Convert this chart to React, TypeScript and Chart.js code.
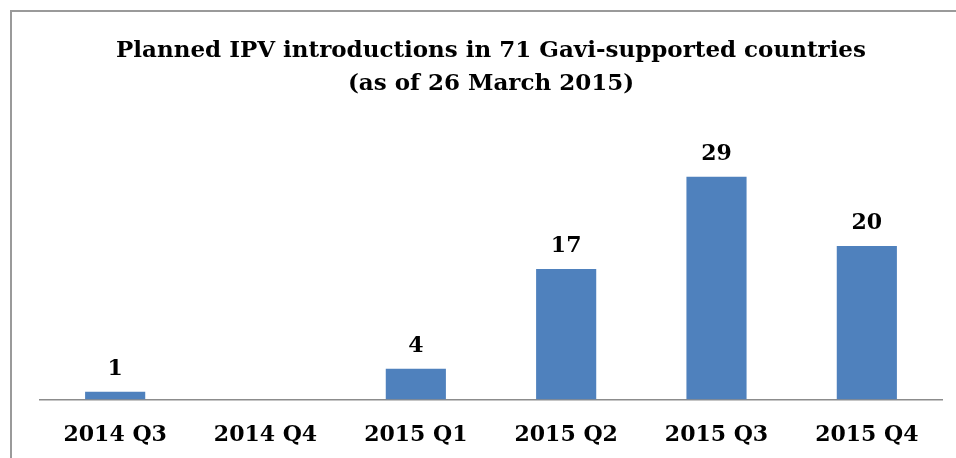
import React, { useEffect, useRef } from "react";
import { Chart, registerables } from "chart.js";

Chart.register(...registerables);

const titleLines = [
  "Planned IPV introductions in 71 Gavi-supported countries",
  "(as of 26 March 2015)",
];
const categories = ["2014 Q3", "2014 Q4", "2015 Q1", "2015 Q2", "2015 Q3", "2015 Q4"];
const introductions = [1, 0, 4, 17, 29, 20];

const FONT = "'DejaVu Serif', serif";

const valueLabels = {
  id: "valueLabels",
  afterDatasetsDraw(chart: any) {
    const ctx = chart.ctx;
    const meta = chart.getDatasetMeta(0);
    const data = chart.data.datasets[0].data as number[];
    ctx.save();
    ctx.font = `bold 22px ${FONT}`;
    ctx.fillStyle = "#000";
    ctx.textAlign = "center";
    ctx.textBaseline = "alphabetic";
    meta.data.forEach((bar: any, i: number) => {
      const v = data[i];
      if (!v) return;
      ctx.fillText(String(v), bar.x, bar.y - 17);
    });
    ctx.restore();
  },
};

export default function App() {
  const ref = useRef<HTMLCanvasElement>(null);
  useEffect(() => {
    if (!ref.current) return;
    const chart = new Chart(ref.current, {
      type: "bar",
      data: {
        labels: categories,
        datasets: [
          {
            data: introductions,
            backgroundColor: "#4F81BD",
            borderWidth: 0,
            barPercentage: 0.4,
            categoryPercentage: 1,
          },
        ],
      },
      options: {
        responsive: false,
        animation: false,
        layout: { padding: { left: 40, right: 14, top: 34, bottom: 0 } },
        plugins: {
          legend: { display: false },
          tooltip: { enabled: false },
          title: {
            display: true,
            text: titleLines,
            color: "#000",
            font: { family: FONT, size: 23, weight: "bold", lineHeight: 1.45 },
            padding: { top: 0, bottom: 30 },
          },
        },
        scales: {
          x: {
            grid: { display: false },
            border: { display: true, color: "#8c8c8c", width: 1.5 },
            ticks: {
              color: "#000",
              font: { family: FONT, size: 22, weight: "bold" },
              padding: 14.5,
              maxRotation: 0,
            },
            afterFit: (s: any) => {
              s.height = 58.5;
            },
          },
          y: {
            display: false,
            min: 0,
            max: 35,
          },
        },
      },
      plugins: [valueLabels],
    });
    return () => chart.destroy();
  }, []);
  return (
    <div style={{ position: "absolute", left: 0, top: 0, width: 956, height: 458, background: "#fff", overflow: "hidden" }}>
      <canvas ref={ref} width={956} height={458} style={{ display: "block", position: "absolute", left: 0, top: 0 }} />
      <div
        style={{
          position: "absolute",
          left: 10,
          top: 10,
          width: 1200,
          height: 1200,
          border: "2px solid #9a9a9a",
          pointerEvents: "none",
        }}
      />
    </div>
  );
}
